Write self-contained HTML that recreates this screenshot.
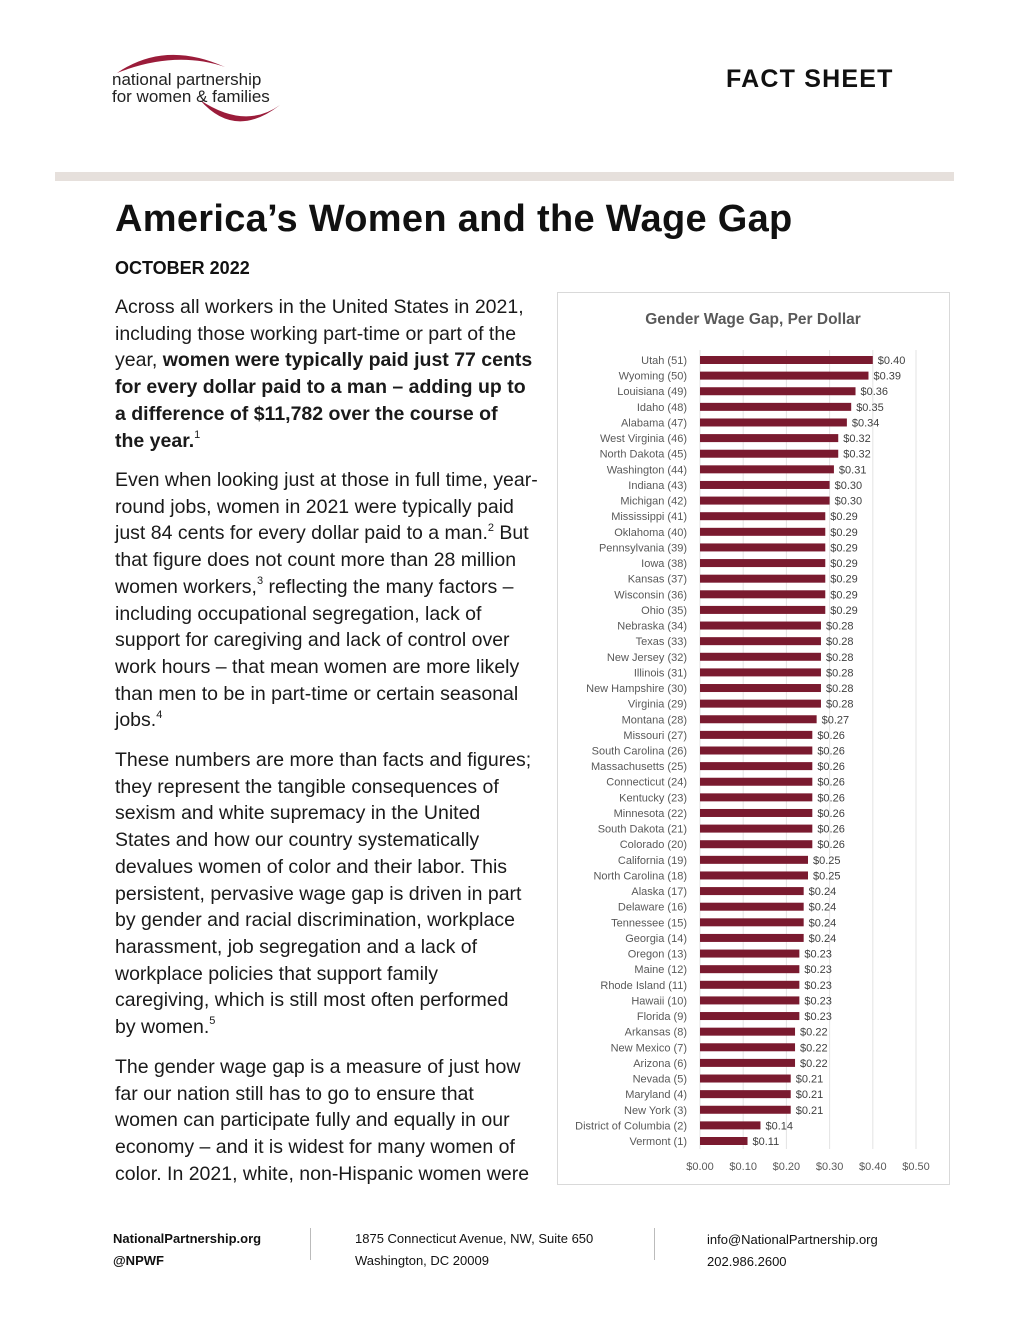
<!DOCTYPE html>
<html><head><meta charset="utf-8"><style>
body{margin:0;width:1010px;height:1317px;background:#fff;font-family:"Liberation Sans","DejaVu Sans",sans-serif;position:relative;overflow:hidden;color:#111}
.ab{position:absolute;white-space:nowrap}
.p{position:absolute;left:115px;font-size:19.5px;line-height:26.7px;color:#1a1a1a;white-space:nowrap}
.p sup{font-size:11px;line-height:0;vertical-align:baseline;position:relative;top:-0.8em}
.ft{font-size:13px;line-height:22px;color:#111}
</style></head><body>
<svg class="ab" style="left:105px;top:45px" width="190" height="90">
<path d="M12 28 Q60 -5 120 22 Q70 5 12 28Z" fill="#9b1c3a"/>
<path d="M95 55 Q130 95 175 60 Q140 85 95 55Z" fill="#9b1c3a"/>
<text x="7" y="40" font-size="17" fill="#222" font-family="Liberation Sans,sans-serif">national partnership</text>
<text x="7" y="57" font-size="17" fill="#222" font-family="Liberation Sans,sans-serif">for women &amp; families</text>
</svg>
<div class="ab" style="left:726px;top:65px;font-size:25px;font-weight:bold;letter-spacing:1.2px">FACT SHEET</div>
<div class="ab" style="left:55px;top:172px;width:899px;height:9px;background:#e6e0dc"></div>
<div class="ab" style="left:115px;top:198px;font-size:38px;font-weight:bold;letter-spacing:0.3px">America’s Women and the Wage Gap</div>
<div class="ab" style="left:115px;top:258px;font-size:18px;font-weight:bold">OCTOBER 2022</div>
<div class="p" style="top:294px">Across all workers in the United States in 2021,<br>including those working part-time or part of the<br>year, <b>women were typically paid just 77 cents</b><br><b>for every dollar paid to a man – adding up to</b><br><b>a difference of $11,782 over the course of</b><br><b>the year.</b><sup>1</sup></div>
<div class="p" style="top:467px">Even when looking just at those in full time, year-<br>round jobs, women in 2021 were typically paid<br>just 84 cents for every dollar paid to a man.<sup>2</sup> But<br>that figure does not count more than 28 million<br>women workers,<sup>3</sup> reflecting the many factors –<br>including occupational segregation, lack of<br>support for caregiving and lack of control over<br>work hours – that mean women are more likely<br>than men to be in part-time or certain seasonal<br>jobs.<sup>4</sup></div>
<div class="p" style="top:747px">These numbers are more than facts and figures;<br>they represent the tangible consequences of<br>sexism and white supremacy in the United<br>States and how our country systematically<br>devalues women of color and their labor. This<br>persistent, pervasive wage gap is driven in part<br>by gender and racial discrimination, workplace<br>harassment, job segregation and a lack of<br>workplace policies that support family<br>caregiving, which is still most often performed<br>by women.<sup>5</sup></div>
<div class="p" style="top:1054px">The gender wage gap is a measure of just how<br>far our nation still has to go to ensure that<br>women can participate fully and equally in our<br>economy – and it is widest for many women of<br>color. In 2021, white, non-Hispanic women were</div>

<svg class="ab" id="chart" style="left:557px;top:292px" width="393" height="893">
<rect x="0.5" y="0.5" width="392" height="892" fill="#fff" stroke="#d9d9d9"/>
<text x="196" y="32" text-anchor="middle" font-size="15.5" font-weight="bold" fill="#595959" font-family="Liberation Sans,sans-serif">Gender Wage Gap, Per Dollar</text>
<g id="grid"></g><g id="bars"></g><g id="ticks"></g>
</svg>

<div class="ab ft" style="left:113px;top:1228px;font-weight:bold">NationalPartnership.org<br>@NPWF</div>
<div class="ab" style="left:310px;top:1228px;width:1px;height:32px;background:#bbb"></div>
<div class="ab ft" style="left:355px;top:1228px">1875 Connecticut Avenue, NW, Suite 650<br>Washington, DC 20009</div>
<div class="ab" style="left:654px;top:1228px;width:1px;height:32px;background:#bbb"></div>
<div class="ab ft" style="left:707px;top:1229px">info@NationalPartnership.org<br>202.986.2600</div>

<script>
const states=["Utah (51)","Wyoming (50)","Louisiana (49)","Idaho (48)","Alabama (47)","West Virginia (46)","North Dakota (45)","Washington (44)","Indiana (43)","Michigan (42)","Mississippi (41)","Oklahoma (40)","Pennsylvania (39)","Iowa (38)","Kansas (37)","Wisconsin (36)","Ohio (35)","Nebraska (34)","Texas (33)","New Jersey (32)","Illinois (31)","New Hampshire (30)","Virginia (29)","Montana (28)","Missouri (27)","South Carolina (26)","Massachusetts (25)","Connecticut (24)","Kentucky (23)","Minnesota (22)","South Dakota (21)","Colorado (20)","California (19)","North Carolina (18)","Alaska (17)","Delaware (16)","Tennessee (15)","Georgia (14)","Oregon (13)","Maine (12)","Rhode Island (11)","Hawaii (10)","Florida (9)","Arkansas (8)","New Mexico (7)","Arizona (6)","Nevada (5)","Maryland (4)","New York (3)","District of Columbia (2)","Vermont (1)"];
const gaps=[0.40,0.39,0.36,0.35,0.34,0.32,0.32,0.31,0.30,0.30,0.29,0.29,0.29,0.29,0.29,0.29,0.29,0.28,0.28,0.28,0.28,0.28,0.28,0.27,0.26,0.26,0.26,0.26,0.26,0.26,0.26,0.26,0.25,0.25,0.24,0.24,0.24,0.24,0.23,0.23,0.23,0.23,0.23,0.22,0.22,0.22,0.21,0.21,0.21,0.14,0.11];
const ticks=[0,0.1,0.2,0.3,0.4,0.5];
const NS="http://www.w3.org/2000/svg";
const x=v=>143+v*432;
const y=i=>68+i*15.62;
function mk(t,a,p){const e=document.createElementNS(NS,t);for(const k in a)e.setAttribute(k,a[k]);document.getElementById(p).appendChild(e);return e;}
ticks.forEach(t=>{
 const g=mk('line',{x1:x(t),x2:x(t),y1:58,y2:857,stroke:'#e3e3e3'},'grid');
 
 
 const l=mk('text',{x:x(t),y:878,'text-anchor':'middle','font-size':11,fill:'#595959','font-family':'Liberation Sans,sans-serif'},'ticks');
 l.textContent='$'+t.toFixed(2);
 
 
});
states.forEach((s,i)=>{
 const cy=y(i);
 const n=mk('text',{x:130,y:cy+4,'text-anchor':'end','font-size':11,fill:'#595959','font-family':'Liberation Sans,sans-serif'},'bars');
 n.textContent=s;
 
 
 const b=mk('rect',{x:x(0),y:cy-4,width:x(gaps[i])-x(0),height:8,fill:'#7a1a2f'},'bars');
 
 
 const v=mk('text',{x:x(gaps[i])+5,y:cy+4,'font-size':11,fill:'#404040','font-family':'Liberation Sans,sans-serif'},'bars');
 v.textContent='$'+gaps[i].toFixed(2);
 
 
});
</script>
</body></html>
